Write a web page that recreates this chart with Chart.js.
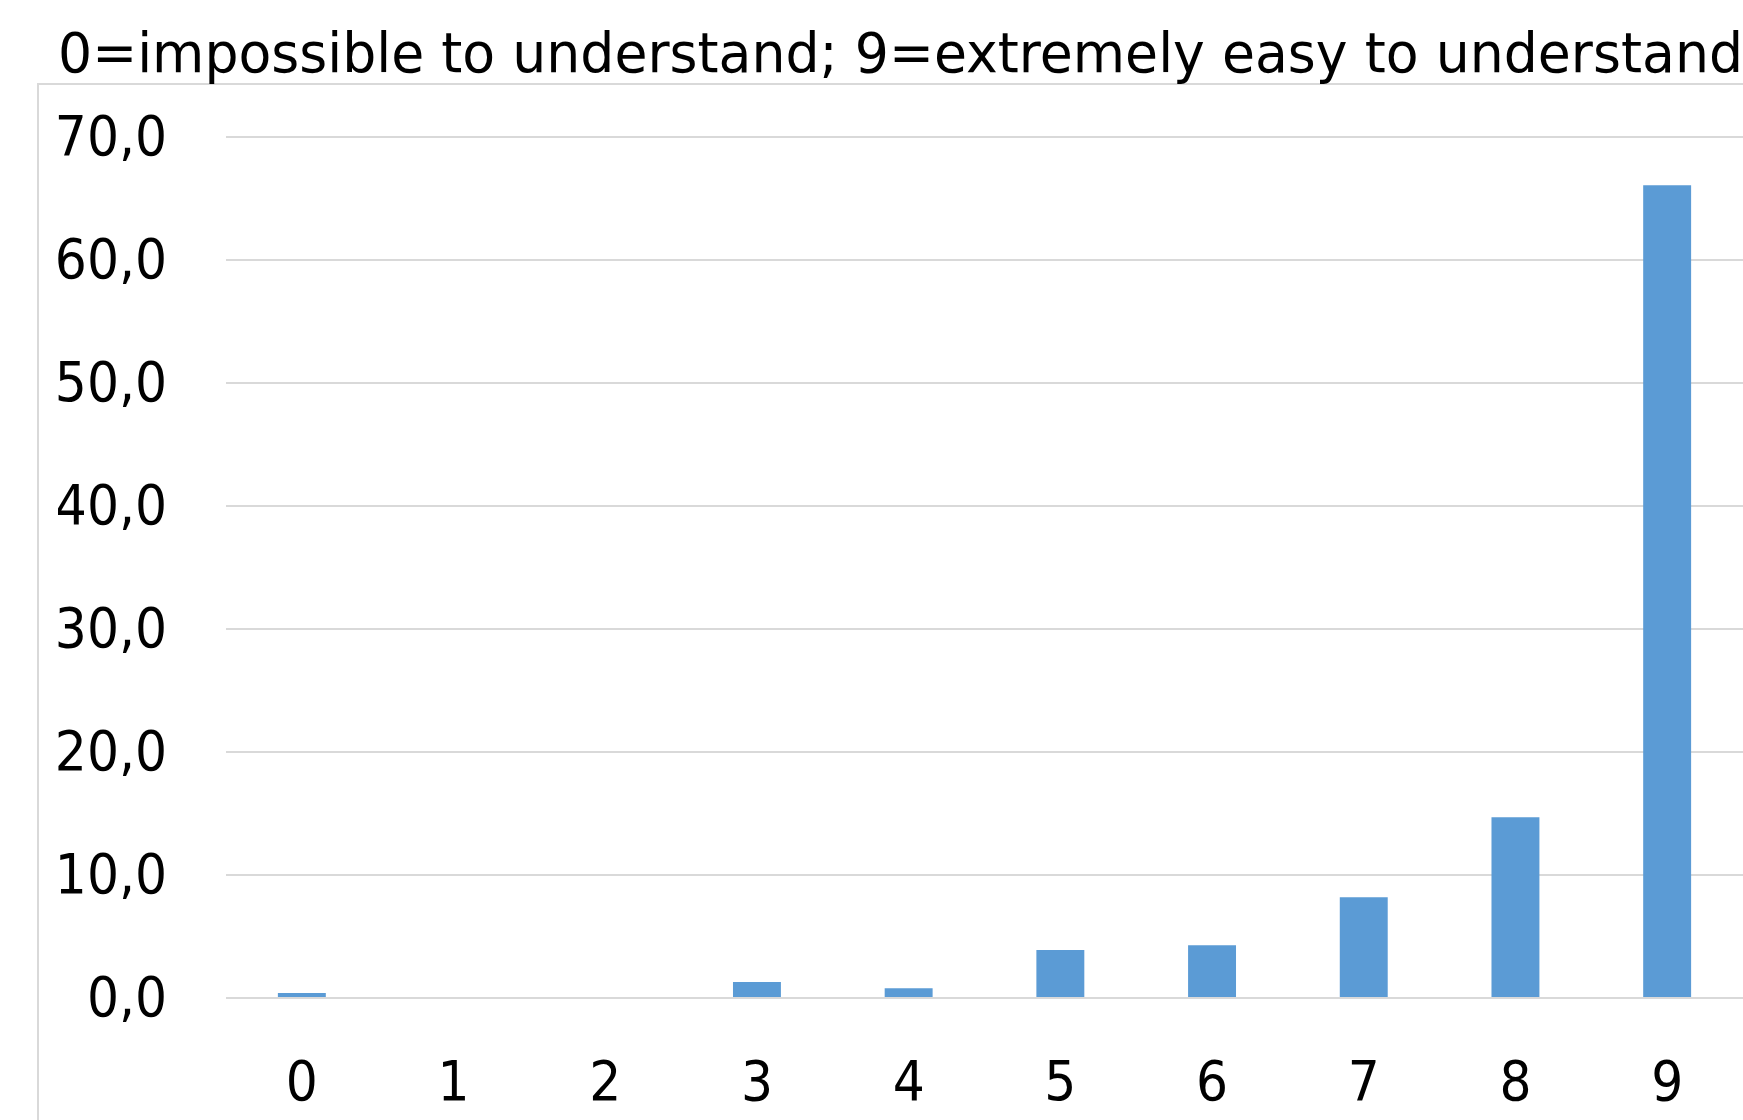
<!DOCTYPE html>
<html>
<head>
<meta charset="utf-8">
<script src="https://cdn.jsdelivr.net/npm/chart.js@4"></script>
<style>
  body { margin: 0; background: #fff; overflow: hidden; }
  #wrap { position: relative; width: 1743px; height: 1120px; }
  #frame { position: absolute; left: 37px; top: 83px; width: 1800px; height: 1200px;
           border-left: 2px solid #d9d9d9; border-top: 2px solid #d9d9d9; }
  canvas { position: absolute; left: 0; top: 0; }
</style>
</head>
<body>
<div id="wrap">
  <div id="frame"></div>
  <canvas id="c" width="1743" height="1120"></canvas>
</div>
<script>
// Werte
const categories = ['0', '1', '2', '3', '4', '5', '6', '7', '8', '9'];
const shares = [0.4, 0, 0, 1.3, 0.8, 3.9, 4.3, 8.2, 14.7, 66.1];
const yTicks = [0, 10, 20, 30, 40, 50, 60, 70];
const titleText = '0=impossible to understand; 9=extremely easy to understand';

const tickFont = { family: "'DejaVu Sans Condensed', 'DejaVu Sans', sans-serif", size: 56 };

var ctx = document.getElementById('c');
var chart = new Chart(ctx, {
  type: 'bar',
  data: {
    labels: categories,
    datasets: [{
      data: shares,
      backgroundColor: '#5b9bd5',
      barPercentage: 0.316,
      categoryPercentage: 1
    }]
  },
  options: {
    responsive: false,
    animation: false,
    layout: { padding: { left: 58, right: 0, top: 0, bottom: 0 } },
    plugins: {
      legend: { display: false },
      tooltip: { enabled: false },
      title: {
        display: true,
        text: titleText,
        align: 'start',
        color: '#000',
        font: { family: "'DejaVu Sans', sans-serif", size: 55.7, weight: 'normal' },
        padding: { top: 24, bottom: 46.5 }
      }
    },
    scales: {
      x: {
        grid: { display: false },
        border: { display: false },
        ticks: { color: '#000', font: tickFont, padding: 45.5, maxRotation: 0 },
        afterFit: function(s) { s.height = 122; }
      },
      y: {
        min: 0,
        max: 70,
        afterBuildTicks: function(s) { s.ticks = yTicks.map(function(v) { return { value: v }; }); },
        grid: { color: '#d9d9d9', lineWidth: 2, drawTicks: false },
        border: { display: false },
        ticks: {
          color: '#000',
          font: tickFont,
          padding: 59,
          labelOffset: 3.5,
          callback: function(v) { return v.toFixed(1).replace('.', ','); }
        },
        afterFit: function(s) { s.width = 168; }
      }
    }
  }
});
</script>
</body>
</html>
